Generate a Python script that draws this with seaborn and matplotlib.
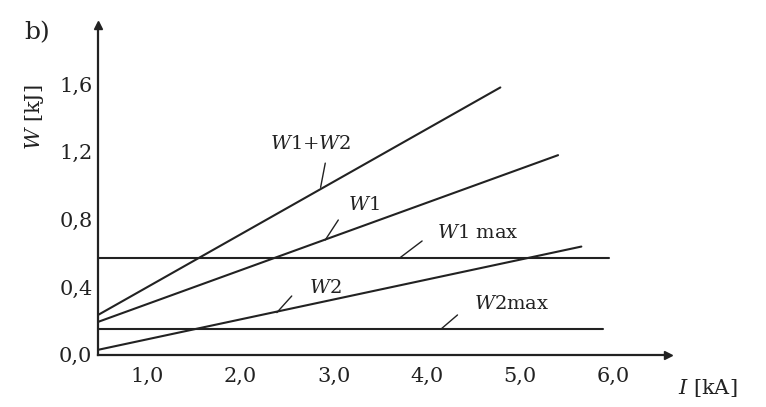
import matplotlib
matplotlib.use("Agg")
import matplotlib.pyplot as plt
import seaborn as sns
import pandas as pd
import numpy as np

sns.set_theme(style="white")
plt.rcParams['font.family'] = ['DejaVu Serif']
plt.rcParams['mathtext.fontset'] = 'dejavuserif'

# Data: line endpoints, I in kA, W in kJ
w12_I = [0.47, 4.79]
w12_W = [0.236, 1.58]
w1_I = [0.47, 5.41]
w1_W = [0.195, 1.18]
w2_I = [0.47, 5.66]
w2_W = [0.03, 0.64]
w1max_I = [0.47, 5.96]
w1max_W = [0.57, 0.57]
w2max_I = [0.47, 5.89]
w2max_W = [0.153, 0.153]

x_ticks = [1.0, 2.0, 3.0, 4.0, 5.0, 6.0]
x_tick_labels = ["1,0", "2,0", "3,0", "4,0", "5,0", "6,0"]
y_ticks = [0.0, 0.4, 0.8, 1.2, 1.6]
y_tick_labels = ["0,0", "0,4", "0,8", "1,2", "1,6"]

series = {
    "W1+W2": (w12_I, w12_W),
    "W1": (w1_I, w1_W),
    "W2": (w2_I, w2_W),
    "W1max": (w1max_I, w1max_W),
    "W2max": (w2max_I, w2max_W),
}
frames = []
for name, (xs, ys) in series.items():
    frames.append(pd.DataFrame({"I": xs, "W": ys, "s": name}))
df = pd.concat(frames, ignore_index=True)

ink = "#222222"
fig = plt.figure(figsize=(7.66, 4.07), dpi=100)
ax = fig.add_axes([0.128, 0.128, 0.744, 0.811])

sns.lineplot(data=df, x="I", y="W", units="s", estimator=None, color=ink,
             linewidth=1.5, ax=ax, legend=False, sort=False)

xmin, xmax = 0.47, 6.59
ymin, ymax = 0.0, 1.95
ax.set_xlim(xmin, xmax)
ax.set_ylim(ymin, ymax)

for s in ["top", "right"]:
    ax.spines[s].set_visible(False)
for s in ["left", "bottom"]:
    ax.spines[s].set_color(ink)
    ax.spines[s].set_linewidth(1.6)

ax.set_xticks(x_ticks)
ax.set_xticklabels(x_tick_labels)
ax.set_yticks(y_ticks)
ax.set_yticklabels(y_tick_labels)
ax.tick_params(axis="both", direction="in", length=9, width=1.4, color=ink,
               labelsize=15, labelcolor=ink)
ax.tick_params(axis="x", pad=9)
ax.tick_params(axis="y", pad=4)
ax.set_xlabel("")
ax.set_ylabel("")

# axis arrow heads
ax.plot([xmin], [ymax], marker="^", markersize=6, color=ink, clip_on=False)
ax.plot([xmax], [ymin], marker=">", markersize=6, color=ink, clip_on=False)

# labels and leaders
fs = 14
labels = [
    (r"$W$1+$W$2", 2.75, 1.245, (2.91, 1.133), (2.86, 0.99)),
    (r"$W$1", 3.32, 0.885, (3.05, 0.797), (2.91, 0.679)),
    (r"$W$2", 2.91, 0.395, (2.55, 0.348), (2.39, 0.25)),
    (r"$W$1 max", 4.55, 0.72, (3.95, 0.673), (3.71, 0.573)),
    (r"$W$2max", 4.91, 0.30, (4.33, 0.236), (4.16, 0.156)),
]
for txt, tx, ty, p0, p1 in labels:
    ax.text(tx, ty, txt, fontsize=fs, color=ink, ha="center", va="center")
    ax.plot([p0[0], p1[0]], [p0[1], p1[1]], color=ink, linewidth=1.0)

fig.text(37 / 766, 1 - 33 / 407, "b)", fontsize=18, color=ink, ha="center", va="center")
fig.text(35 / 766, 1 - 117 / 407, r"$W$ [kJ]", fontsize=15, color=ink, rotation=90,
         ha="center", va="center")
fig.text(708 / 766, 1 - 388 / 407, r"$I$ [kA]", fontsize=15, color=ink, ha="center", va="center")

fig.savefig("out.png", dpi=100, facecolor="white")
